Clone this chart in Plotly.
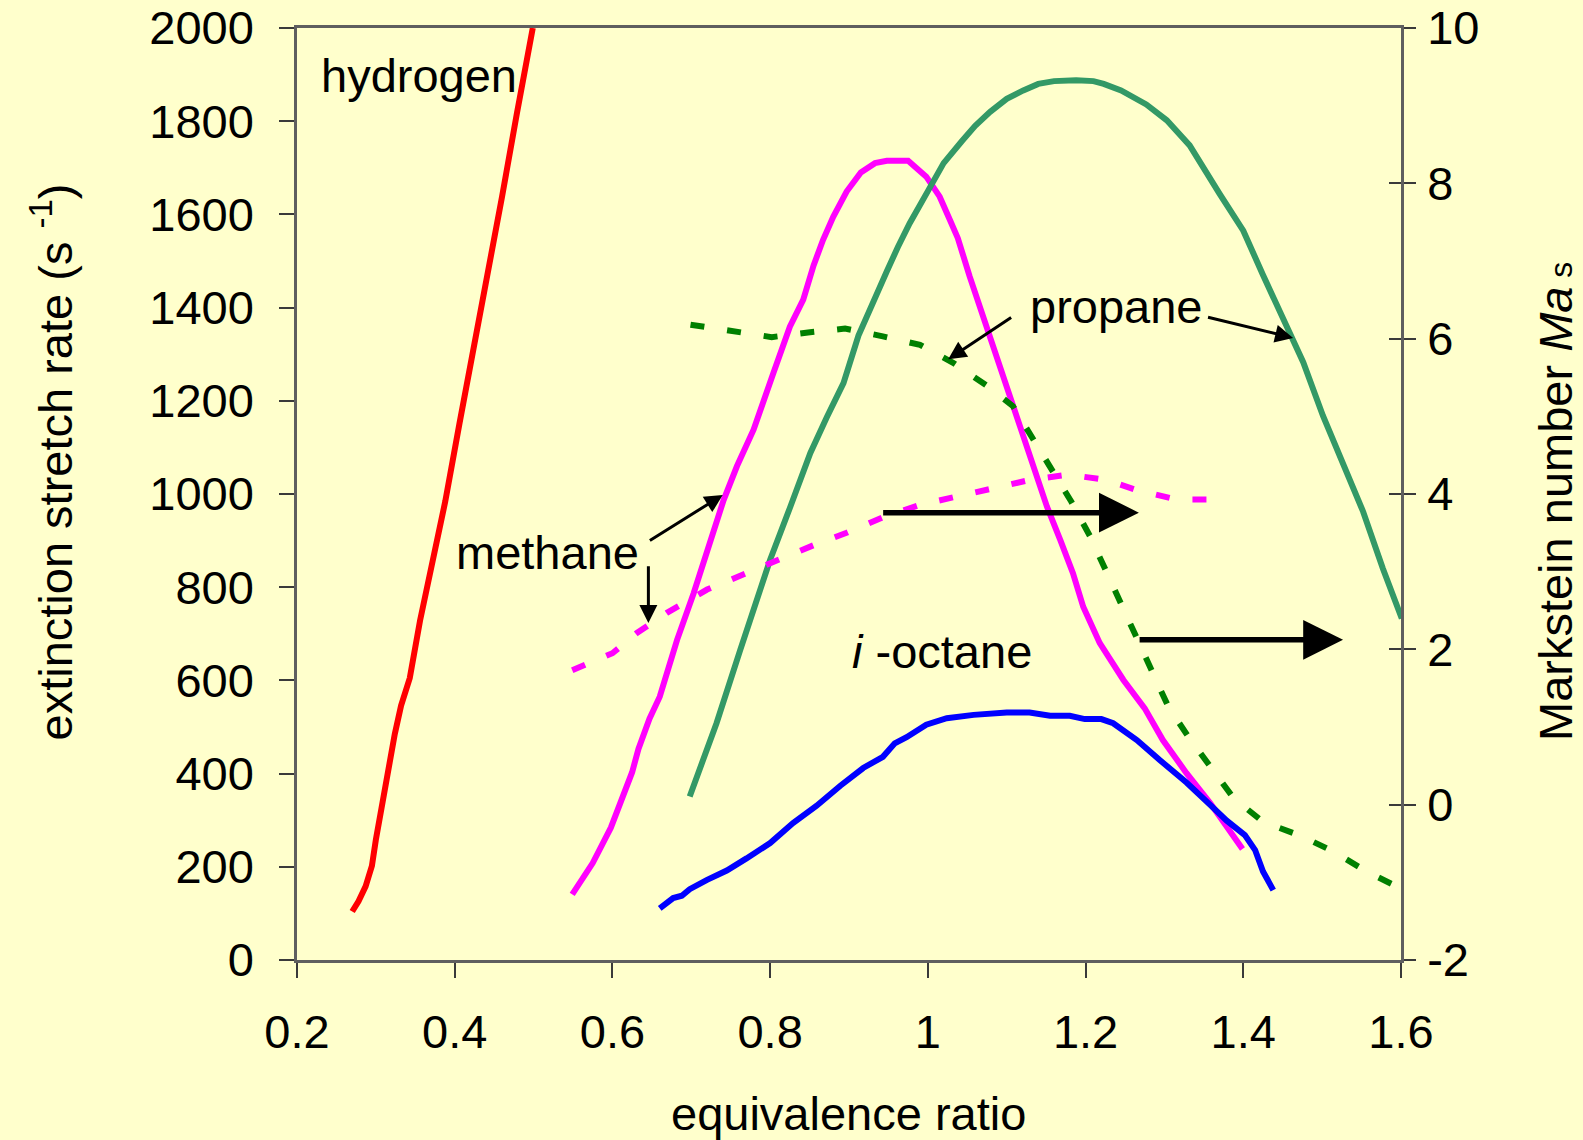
import plotly.graph_objects as go

# Extinction stretch rate (s^-1) versus equivalence ratio
h2_phi = [0.270, 0.278, 0.287, 0.295, 0.300, 0.306, 0.313, 0.318, 0.324, 0.332,
          0.343, 0.356, 0.371, 0.388, 0.406, 0.425, 0.442, 0.460, 0.479, 0.499]
h2_k = [104, 126, 158, 202, 258, 316, 375, 427, 485, 546,
        605, 728, 847, 984, 1151, 1320, 1476, 1638, 1818, 2000]

ch4_phi = [0.549, 0.575, 0.598, 0.612, 0.625, 0.633, 0.647, 0.660, 0.682, 0.703,
           0.724, 0.741, 0.758, 0.779, 0.804, 0.825, 0.842, 0.855, 0.867, 0.880,
           0.897, 0.915, 0.933, 0.948, 0.962, 0.975, 0.998, 1.015, 1.028, 1.038,
           1.053, 1.070, 1.087, 1.108, 1.125, 1.138, 1.151, 1.168, 1.184, 1.197,
           1.218, 1.248, 1.275, 1.298, 1.328, 1.358, 1.399]
ch4_k = [141, 208, 284, 342, 403, 453, 518, 565, 687, 787,
         902, 987, 1060, 1138, 1259, 1359, 1417, 1490, 1545, 1595,
         1649, 1690, 1710, 1715, 1715, 1715, 1681, 1638, 1588, 1549,
         1467, 1381, 1295, 1195, 1109, 1037, 973, 901, 830, 758,
         680, 601, 540, 472, 401, 337, 238]

c3h8_phi = [0.698, 0.732, 0.762, 0.800, 0.825, 0.851, 0.872, 0.893, 0.912, 0.931,
            0.948, 0.962, 0.977, 1.000, 1.020, 1.043, 1.060, 1.079, 1.100, 1.121,
            1.140, 1.160, 1.188, 1.210, 1.223, 1.245, 1.277, 1.303, 1.332, 1.370,
            1.400, 1.425, 1.455, 1.476, 1.501, 1.527, 1.552, 1.577, 1.601]
c3h8_k = [351, 508, 665, 859, 970, 1088, 1165, 1238, 1340, 1417,
          1478, 1530, 1581, 1650, 1710, 1757, 1790, 1820, 1848, 1866,
          1880, 1886, 1888, 1886, 1880, 1866, 1836, 1802, 1748, 1644,
          1565, 1470, 1360, 1283, 1168, 1065, 962, 840, 733]

ic8_phi = [0.660, 0.677, 0.688, 0.698, 0.720, 0.745, 0.770, 0.800, 0.829, 0.859,
           0.889, 0.918, 0.943, 0.958, 0.973, 0.998, 1.024, 1.058, 1.100, 1.129,
           1.155, 1.180, 1.199, 1.220, 1.235, 1.265, 1.294, 1.328, 1.358, 1.379,
           1.402, 1.415, 1.425, 1.438]
ic8_k = [111, 133, 138, 152, 172, 192, 218, 251, 294, 331,
         374, 412, 436, 465, 478, 505, 519, 526, 531, 531,
         524, 524, 517, 517, 508, 472, 429, 381, 333, 299,
         268, 236, 190, 150]

# Markstein number Ma_s versus equivalence ratio
ch4_ma_phi = [0.549, 0.600, 0.631, 0.669, 0.720, 0.762, 0.804, 0.855, 0.897, 0.943,
              0.990, 1.036, 1.083, 1.129, 1.178, 1.227, 1.265, 1.315, 1.375]
ch4_ma = [1.73, 1.95, 2.21, 2.47, 2.77, 2.95, 3.13, 3.34, 3.50, 3.70,
          3.86, 3.97, 4.08, 4.18, 4.25, 4.18, 4.05, 3.93, 3.93]

c3h8_ma_phi = [0.699, 0.753, 0.802, 0.848, 0.895, 0.943, 0.990, 1.032, 1.074, 1.108,
               1.132, 1.159, 1.182, 1.206, 1.227, 1.246, 1.265, 1.284, 1.305, 1.330,
               1.360, 1.388, 1.425, 1.470, 1.514, 1.556, 1.600]
c3h8_ma = [6.18, 6.09, 6.02, 6.08, 6.13, 6.03, 5.92, 5.69, 5.40, 5.13,
           4.74, 4.31, 3.90, 3.45, 2.98, 2.57, 2.12, 1.69, 1.26, 0.88,
           0.47, 0.08, -0.22, -0.39, -0.60, -0.86, -1.08]

# Axis ticks
phi_ticks = [0.2, 0.4, 0.6, 0.8, 1.0, 1.2, 1.4, 1.6]
k_ticks = [0, 200, 400, 600, 800, 1000, 1200, 1400, 1600, 1800, 2000]
ma_ticks = [-2, 0, 2, 4, 6, 8, 10]
ma_tick_text = ["-2", "0", "2", "4", "6", "8", "10"]

FONT = "Liberation Sans, Arial, sans-serif"
BG = "#FFFFCC"
AXIS_LINE = "#5f5f5f"
TICK = "#3a3a3a"
FS = 47

fig = go.Figure()

solid = [
    (h2_phi, h2_k, "#FF0000"),
    (ch4_phi, ch4_k, "#FF00FF"),
    (c3h8_phi, c3h8_k, "#339966"),
    (ic8_phi, ic8_k, "#0000FF"),
]
for xs, ys, col in solid:
    fig.add_trace(go.Scatter(x=xs, y=ys, mode="lines", yaxis="y",
                             line=dict(color=col, width=6), showlegend=False,
                             hoverinfo="skip"))

for xs, ys, col in [(ch4_ma_phi, ch4_ma, "#FF00FF"), (c3h8_ma_phi, c3h8_ma, "#008000")]:
    fig.add_trace(go.Scatter(x=xs, y=ys, mode="lines", yaxis="y2",
                             line=dict(color=col, width=6, dash="14px,23px"),
                             showlegend=False, hoverinfo="skip"))

# empty trace that carries the inner half of the right-axis tick marks
fig.add_trace(go.Scatter(x=[], y=[], yaxis="y3", showlegend=False, hoverinfo="skip"))

annotations = []

def label(text, x, y, size=FS):
    annotations.append(dict(text=text, x=x, y=y, xref="x", yref="y", showarrow=False,
                            xanchor="center", yanchor="middle",
                            font=dict(family=FONT, size=size, color="black")))

def arrow(x0, y0, x1, y1, width, size):
    annotations.append(dict(text="", x=x1, y=y1, ax=x0, ay=y0, xref="x", yref="y",
                            axref="x", ayref="y", showarrow=True, arrowhead=2,
                            arrowwidth=width, arrowsize=size, arrowcolor="black",
                            standoff=0, startstandoff=0))

label("hydrogen", 0.3544, 1898)
label("methane", 0.5172, 874)
label("propane", 1.2397, 1403)
label("<i>i</i> -octane", 1.0185, 663)

arrow(0.6456, 898, 0.7399, 998, 3, 1.2)
arrow(0.6456, 848, 0.6456, 723, 3, 1.2)
arrow(1.1075, 1381, 1.0258, 1289, 3, 1.2)
arrow(1.3534, 1380, 1.4632, 1335, 3, 1.2)
arrow(0.9414, 960, 1.2676, 960, 5.5, 1.45)
arrow(1.2666, 687, 1.5265, 687, 5.5, 1.45)

# axis titles
annotations.append(dict(text="extinction stretch rate (s <sup>-1</sup>)", xref="paper", yref="paper",
                        x=-0.2215, y=0.5343, textangle=-90, showarrow=False,
                        xanchor="center", yanchor="middle",
                        font=dict(family=FONT, size=FS, color="black")))
annotations.append(dict(text="Markstein number <i>Ma</i><span style='font-size:32px'> s</span>",
                        xref="paper", yref="paper",
                        x=1.1395, y=0.4914, textangle=-90, showarrow=False,
                        xanchor="center", yanchor="middle",
                        font=dict(family=FONT, size=FS, color="black")))
annotations.append(dict(text="equivalence ratio", xref="paper", yref="paper",
                        x=0.4991, y=-0.1648, showarrow=False,
                        xanchor="center", yanchor="middle",
                        font=dict(family=FONT, size=FS, color="black")))

tick_font = dict(family=FONT, size=FS, color="black")

fig.update_layout(
    width=1583, height=1140,
    margin=dict(l=297, r=182, t=28, b=180, pad=0, autoexpand=False),
    paper_bgcolor=BG, plot_bgcolor=BG,
    showlegend=False,
    annotations=annotations,
    xaxis=dict(range=[0.2, 1.6], tickvals=phi_ticks, ticks="outside", ticklen=15,
               tickwidth=1.5, tickcolor=TICK, showline=True, linecolor=AXIS_LINE,
               linewidth=2.5, mirror=True, showgrid=False, zeroline=False,
               tickfont=tick_font, ticklabelstandoff=14, automargin=False),
    yaxis=dict(range=[0, 2000], tickvals=k_ticks, ticks="outside", ticklen=15,
               tickwidth=1.5, tickcolor=TICK, showline=True, linecolor=AXIS_LINE,
               linewidth=2.5, showgrid=False, zeroline=False,
               tickfont=tick_font, ticklabelstandoff=16, automargin=False),
    yaxis2=dict(range=[-2, 10], tickvals=ma_ticks, ticktext=ma_tick_text,
                overlaying="y", side="right", ticks="outside", ticklen=12,
                tickwidth=1.5, tickcolor=TICK, showline=True, linecolor=AXIS_LINE,
                linewidth=2.5, showgrid=False, zeroline=False,
                tickfont=tick_font, ticklabelstandoff=2, automargin=False),
    yaxis3=dict(range=[-2, 10], tickvals=ma_ticks, overlaying="y", side="right",
                ticks="inside", ticklen=12, tickwidth=1.5, tickcolor=TICK,
                showticklabels=False, showline=False, showgrid=False, zeroline=False,
                automargin=False),
)

fig.write_html("out.html")
